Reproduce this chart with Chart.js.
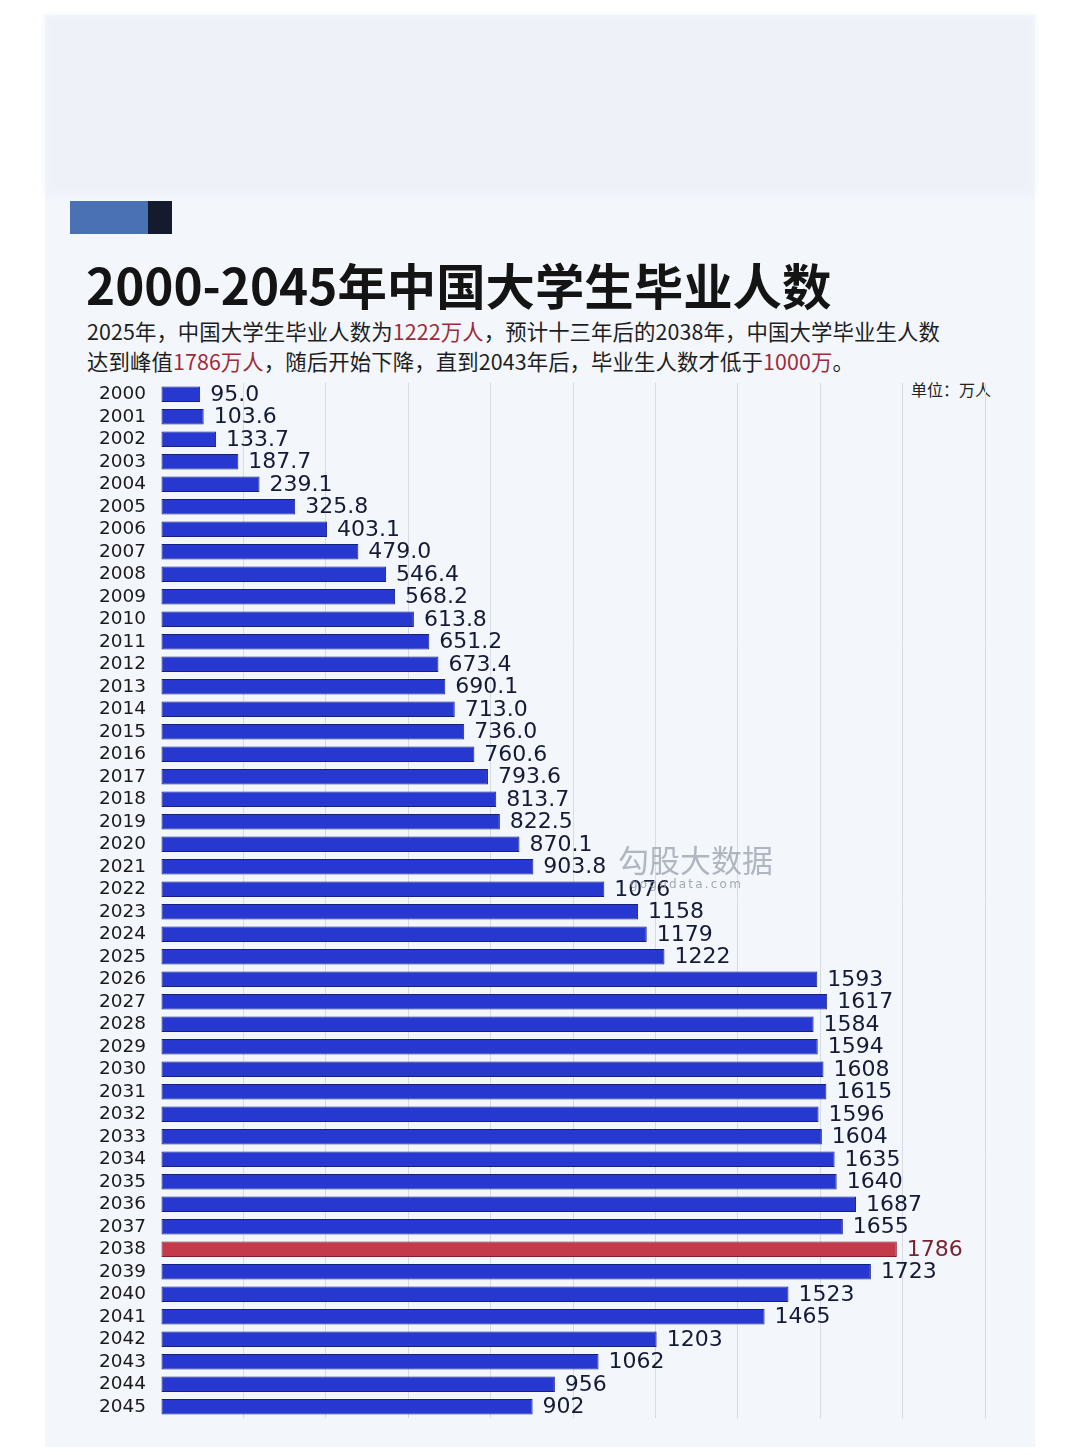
<!DOCTYPE html>
<html>
<head>
<meta charset="utf-8">
<script src="https://cdn.jsdelivr.net/npm/chart.js@4.4.1/dist/chart.umd.min.js"></script>
<style>
  html,body{margin:0;padding:0;}
  body{width:1080px;height:1455px;background:#ffffff;position:relative;overflow:hidden;font-family:"Noto Sans CJK SC","Noto Sans",sans-serif;}
  #panel{position:absolute;left:45px;top:15px;width:990px;height:1432px;background:#f3f7fc;}
  #topband{position:absolute;left:45px;top:15px;width:990px;height:180px;background:#eef2f8;filter:blur(3px);}
  #mark1{position:absolute;left:70px;top:201px;width:78px;height:33px;background:#4a71b4;}
  #mark2{position:absolute;left:148px;top:201px;width:24px;height:33px;background:#141b2e;}
  #title{position:absolute;left:86px;top:251px;font-size:49.4px;font-weight:700;color:#141414;letter-spacing:0px;white-space:nowrap;line-height:66px;}
  .sub{position:absolute;left:87px;font-size:21.4px;color:#1e1e1e;white-space:nowrap;line-height:30px;letter-spacing:0.1px;}
  .sub .r{color:#9e2b3a;}
  #unit{position:absolute;left:911px;top:377px;font-size:16px;color:#222;white-space:nowrap;}
  #wm{position:absolute;left:618px;top:836px;font-size:31px;color:#9aa1ad;opacity:0.75;white-space:nowrap;}
  #wm2{position:absolute;left:630px;top:877px;font-size:12px;color:#8d95a2;opacity:0.8;letter-spacing:2.2px;white-space:nowrap;font-family:"DejaVu Sans",sans-serif;}
  canvas{position:absolute;left:0;top:0;}
</style>
</head>
<body>
<div id="panel"></div>
<div id="topband"></div>
<div id="mark1"></div><div id="mark2"></div>
<div id="title">2000-2045年中国大学生毕业人数</div>
<div class="sub" style="top:316px;">2025年，中国大学生毕业人数为<span class="r">1222万人</span>，预计十三年后的2038年，中国大学毕业生人数</div>
<div class="sub" style="top:346px;">达到峰值<span class="r">1786万人</span>，随后开始下降，直到2043年后，毕业生人数才低于<span class="r">1000万</span>。</div>
<div id="unit">单位：万人</div>
<canvas id="c" width="1080" height="1455"></canvas>
<div id="wm">勾股大数据</div>
<div id="wm2">gogudata.com</div>
<script>
const years = ['2000','2001','2002','2003','2004','2005','2006','2007','2008','2009',
  '2010','2011','2012','2013','2014','2015','2016','2017','2018','2019',
  '2020','2021','2022','2023','2024','2025','2026','2027','2028','2029',
  '2030','2031','2032','2033','2034','2035','2036','2037','2038','2039',
  '2040','2041','2042','2043','2044','2045'];
const graduates = [95.0,103.6,133.7,187.7,239.1,325.8,403.1,479.0,546.4,568.2,
  613.8,651.2,673.4,690.1,713.0,736.0,760.6,793.6,813.7,822.5,
  870.1,903.8,1076,1158,1179,1222,1593,1617,1584,1594,
  1608,1615,1596,1604,1635,1640,1687,1655,1786,1723,
  1523,1465,1203,1062,956,902];
const oneDecimalBefore = 2022;
const highlightYear = '2038';
const axisMax = 2000;
const gridStep = 200;

const fillColors = years.map(y => y === highlightYear ? '#c43a4b' : '#2638d0');
const borderColors = years.map(y => y === highlightYear ? '#7e1f2c' : '#16207f');
const labelColors = years.map(y => y === highlightYear ? '#7a2431' : '#151a36');

const valueLabelPlugin = {
  id: 'valueLabels',
  afterDatasetsDraw(chart) {
    const ctx = chart.ctx;
    const meta = chart.getDatasetMeta(0);
    ctx.save();
    ctx.font = '22px "DejaVu Sans"';
    ctx.textBaseline = 'middle';
    ctx.textAlign = 'left';
    meta.data.forEach((bar, i) => {
      const v = graduates[i];
      const txt = parseInt(years[i]) < oneDecimalBefore ? v.toFixed(1) : String(Math.round(v));
      ctx.fillStyle = labelColors[i];
      ctx.fillText(txt, bar.x + 10, bar.y + 1);
    });
    ctx.restore();
  }
};

new Chart(document.getElementById('c'), {
  type: 'bar',
  data: {
    labels: years,
    datasets: [{
      data: graduates,
      backgroundColor: fillColors,
      borderColor: borderColors,
      borderWidth: 1,
      borderSkipped: false,
      categoryPercentage: 1,
      barPercentage: 0.69
    }]
  },
  options: {
    indexAxis: 'y',
    responsive: false,
    devicePixelRatio: 1,
    animation: false,
    layout: { padding: { left: 0, right: 95, top: 383, bottom: 37 } },
    plugins: { legend: { display: false }, tooltip: { enabled: false } },
    scales: {
      x: {
        min: 0, max: axisMax,
        ticks: { display: false, stepSize: gridStep },
        border: { display: false },
        grid: {
          drawTicks: false,
          color: c => c.tick && c.tick.value === 0 ? 'rgba(0,0,0,0)' : '#d6dae2',
          lineWidth: 1
        }
      },
      y: {
        afterFit: s => { s.width = 161; },
        border: { display: false },
        grid: { display: false, drawTicks: false },
        ticks: {
          padding: 15,
          color: '#1a1a1a',
          font: { family: 'DejaVu Sans', size: 18.5 },
          autoSkip: false
        }
      }
    }
  },
  plugins: [valueLabelPlugin]
});
</script>
</body>
</html>
